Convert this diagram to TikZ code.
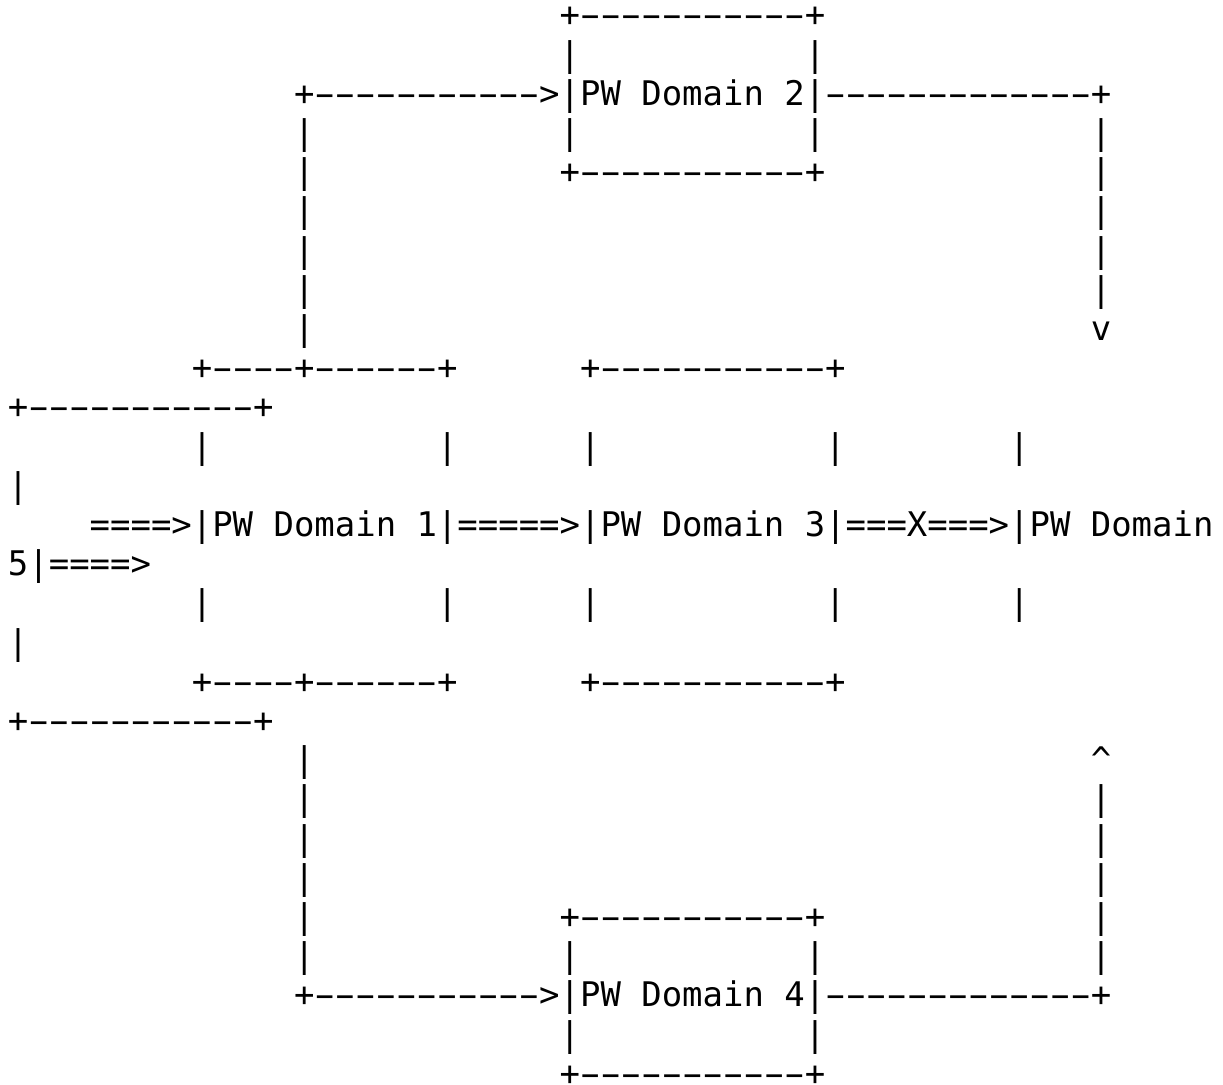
\documentclass[tikz,border=0pt]{standalone}
\usepackage{fontspec}
\setmonofont{DejaVu Sans Mono}
\newfontfamily\dashfont{DejaVu Sans Mono}[FakeStretch=1.8]
\tikzset{
  ascii/.style={anchor=base west, inner sep=0pt, outer sep=0pt,
    font=\ttfamily\fontsize{33.94pt}{39.2pt}\selectfont, text=black}
}
% a hyphen drawn a little wider, kept in its character cell
\newcommand\hy{\makebox[0.602em][c]{\dashfont -}}
% a run of n hyphens
\newcommand\dashes[1]{\ifnum#1>0 \hy\dashes{\the\numexpr#1-1}\fi}
% one text cell: name, row, column, characters
\newcommand\cell[4]{\node[ascii] (#1) at ({8+#3*20.43},{-(#2*39.2+26.8)}) {#4};}
\begin{document}
\begin{tikzpicture}[x=1pt,y=1pt]
\fill[white] (0,0) rectangle (1223,-1084);
\useasboundingbox (0,0) rectangle (1223,-1084);
% upper path through domain 2
\cell{a0}{0}{27}{+\dashes{11}+}
\cell{a1l}{1}{27}{|}\cell{a1r}{1}{39}{|}
\cell{a2}{2}{14}{+\dashes{11}>|PW Domain 2|\dashes{13}+}
\cell{a3a}{3}{14}{|}\cell{a3b}{3}{27}{|}\cell{a3c}{3}{39}{|}\cell{a3d}{3}{53}{|}
\cell{a4a}{4}{14}{|}\cell{a4b}{4}{27}{+\dashes{11}+}\cell{a4c}{4}{53}{|}
\cell{a5a}{5}{14}{|}\cell{a5b}{5}{53}{|}
\cell{a6a}{6}{14}{|}\cell{a6b}{6}{53}{|}
\cell{a7a}{7}{14}{|}\cell{a7b}{7}{53}{|}
\cell{a8a}{8}{14}{|}\cell{a8b}{8}{53}{v}
% main row of domains
\cell{b9a}{9}{9}{+\dashes{4}+\dashes{6}+}\cell{b9b}{9}{28}{+\dashes{11}+}
\cell{b10}{10}{0}{+\dashes{11}+}
\cell{b11a}{11}{9}{|}\cell{b11b}{11}{21}{|}\cell{b11c}{11}{28}{|}\cell{b11d}{11}{40}{|}\cell{b11e}{11}{49}{|}
\cell{b12}{12}{0}{|}
\cell{b13}{13}{4}{====>|PW Domain 1|=====>|PW Domain 3|===X===>|PW Domain}
\cell{b14}{14}{0}{5|====>}
\cell{b15a}{15}{9}{|}\cell{b15b}{15}{21}{|}\cell{b15c}{15}{28}{|}\cell{b15d}{15}{40}{|}\cell{b15e}{15}{49}{|}
\cell{b16}{16}{0}{|}
\cell{b17a}{17}{9}{+\dashes{4}+\dashes{6}+}\cell{b17b}{17}{28}{+\dashes{11}+}
\cell{b18}{18}{0}{+\dashes{11}+}
% lower path through domain 4
\cell{c19a}{19}{14}{|}\cell{c19b}{19}{53}{\textasciicircum}
\cell{c20a}{20}{14}{|}\cell{c20b}{20}{53}{|}
\cell{c21a}{21}{14}{|}\cell{c21b}{21}{53}{|}
\cell{c22a}{22}{14}{|}\cell{c22b}{22}{53}{|}
\cell{c23a}{23}{14}{|}\cell{c23b}{23}{27}{+\dashes{11}+}\cell{c23c}{23}{53}{|}
\cell{c24a}{24}{14}{|}\cell{c24b}{24}{27}{|}\cell{c24c}{24}{39}{|}\cell{c24d}{24}{53}{|}
\cell{c25}{25}{14}{+\dashes{11}>|PW Domain 4|\dashes{13}+}
\cell{c26a}{26}{27}{|}\cell{c26b}{26}{39}{|}
\cell{c27}{27}{27}{+\dashes{11}+}
\end{tikzpicture}
\end{document}
